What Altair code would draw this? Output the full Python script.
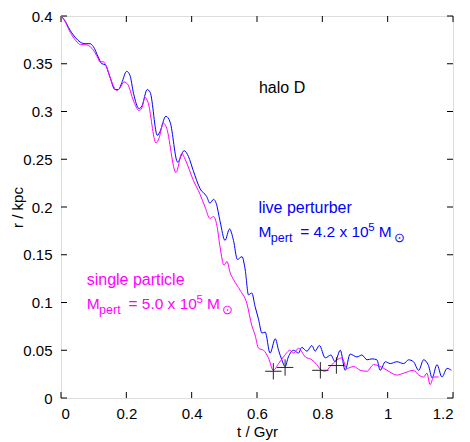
import altair as alt
import pandas as pd

# ---- data ----
blue_t = [0.000, 0.010, 0.028, 0.048, 0.062, 0.074, 0.089, 0.099, 0.114, 0.125, 0.135, 0.150,
          0.165, 0.176, 0.186, 0.201, 0.211, 0.222, 0.239, 0.248, 0.264, 0.273, 0.295, 0.303,
          0.321, 0.334, 0.357, 0.377, 0.390, 0.405, 0.426, 0.446, 0.456, 0.467, 0.475, 0.487,
          0.502, 0.516, 0.528, 0.540, 0.554, 0.564, 0.574, 0.584, 0.594, 0.605, 0.615, 0.625,
          0.640, 0.656, 0.666, 0.676, 0.686, 0.696, 0.712, 0.727, 0.737, 0.753, 0.768, 0.778,
          0.791, 0.809, 0.826, 0.839, 0.855, 0.870, 0.885, 0.906, 0.921, 0.937, 0.952, 0.967,
          0.977, 0.993, 1.008, 1.028, 1.049, 1.064, 1.079, 1.095, 1.110, 1.125, 1.136, 1.151,
          1.166, 1.182, 1.195]
blue_r = [0.400, 0.396, 0.385, 0.376, 0.372, 0.371, 0.371, 0.368, 0.357, 0.350, 0.349, 0.336,
          0.323, 0.323, 0.330, 0.342, 0.338, 0.319, 0.303, 0.306, 0.323, 0.320, 0.275, 0.279,
          0.295, 0.289, 0.247, 0.259, 0.253, 0.238, 0.219, 0.211, 0.204, 0.208, 0.204, 0.185,
          0.165, 0.177, 0.165, 0.145, 0.148, 0.134, 0.108, 0.110, 0.096, 0.082, 0.068, 0.069,
          0.047, 0.062, 0.050, 0.040, 0.033, 0.043, 0.050, 0.047, 0.053, 0.049, 0.055, 0.049,
          0.055, 0.042, 0.045, 0.038, 0.050, 0.029, 0.046, 0.043, 0.045, 0.040, 0.041, 0.040,
          0.029, 0.038, 0.036, 0.038, 0.036, 0.040, 0.038, 0.029, 0.040, 0.034, 0.021, 0.035,
          0.022, 0.031, 0.029]

mag_t = [0.000, 0.010, 0.028, 0.046, 0.060, 0.074, 0.095, 0.113, 0.119, 0.130, 0.138, 0.153,
         0.171, 0.181, 0.193, 0.205, 0.221, 0.239, 0.248, 0.257, 0.266, 0.291, 0.300, 0.313,
         0.322, 0.352, 0.370, 0.380, 0.405, 0.426, 0.441, 0.456, 0.467, 0.477, 0.487, 0.499,
         0.508, 0.518, 0.528, 0.548, 0.569, 0.584, 0.594, 0.605, 0.620, 0.635, 0.650, 0.666,
         0.681, 0.702, 0.712, 0.727, 0.748, 0.768, 0.783, 0.794, 0.809, 0.824, 0.845, 0.860,
         0.875, 0.896, 0.916, 0.937, 0.957, 0.977, 0.998, 1.028, 1.049, 1.079, 1.095, 1.110,
         1.120, 1.130, 1.141, 1.156]
mag_r = [0.400, 0.396, 0.383, 0.374, 0.370, 0.370, 0.366, 0.356, 0.352, 0.352, 0.348, 0.333,
         0.322, 0.325, 0.331, 0.328, 0.312, 0.301, 0.304, 0.315, 0.310, 0.267, 0.272, 0.288,
         0.284, 0.236, 0.256, 0.250, 0.228, 0.213, 0.200, 0.188, 0.190, 0.181, 0.158, 0.139,
         0.143, 0.131, 0.124, 0.113, 0.099, 0.076, 0.066, 0.052, 0.050, 0.042, 0.029, 0.036,
         0.043, 0.050, 0.047, 0.052, 0.043, 0.040, 0.035, 0.030, 0.028, 0.033, 0.040, 0.042,
         0.031, 0.033, 0.029, 0.028, 0.035, 0.033, 0.029, 0.024, 0.026, 0.029, 0.024, 0.022,
         0.026, 0.014, 0.022, 0.022]

cross_t = [0.650, 0.686, 0.794, 0.843]
cross_r = [0.028, 0.032, 0.029, 0.034]

x_ticks = [0, 0.2, 0.4, 0.6, 0.8, 1.0, 1.2]
y_ticks = [0, 0.05, 0.1, 0.15, 0.2, 0.25, 0.3, 0.35, 0.4]

halo_label = "halo D"
halo_pos = (0.606, 0.319)
live_anchor = (0.6045, 0.1689)
single_anchor = (0.0787, 0.0932)
live_lines = ["live perturber", "4.2"]
single_lines = ["single particle", "5.0"]

BLUE = "#0000ff"
MAG = "#ff00ff"
FONT = "Liberation Sans"
W, H = 392, 382
TL = 6

xs = alt.Scale(domain=[0, 1.2], nice=False, zero=False)
ys = alt.Scale(domain=[0, 0.4], nice=False, zero=False)

xaxis = alt.Axis(values=x_ticks, format="~g", title="t / Gyr", ticks=False, tickSize=0,
                 domain=False, grid=False, labelFontSize=15, labelPadding=8, labelFont=FONT,
                 titleFont=FONT, titleFontSize=15, titleFontWeight="normal", titlePadding=3,
                 labelColor="black", titleColor="black")
yaxis = alt.Axis(values=y_ticks, format="~g", title="r / kpc", ticks=False, tickSize=0,
                 domain=False, grid=False, labelFontSize=15, labelPadding=9, labelFont=FONT,
                 titleFont=FONT, titleFontSize=15, titleFontWeight="normal", titlePadding=-3,
                 labelColor="black", titleColor="black")

blue_df = pd.DataFrame({"t": blue_t, "r": blue_r})
mag_df = pd.DataFrame({"t": mag_t, "r": mag_r})
cross_df = pd.DataFrame({"t": cross_t, "r": cross_r})
xt_df = pd.DataFrame({"v": x_ticks})
yt_df = pd.DataFrame({"v": y_ticks})

blue_line = alt.Chart(blue_df).mark_line(color=BLUE, strokeWidth=1, interpolate="monotone").encode(
    x=alt.X("t:Q", scale=xs, axis=xaxis), y=alt.Y("r:Q", scale=ys, axis=yaxis), order="t:Q")
mag_line = alt.Chart(mag_df).mark_line(color=MAG, strokeWidth=1, interpolate="monotone").encode(
    x=alt.X("t:Q", scale=xs), y=alt.Y("r:Q", scale=ys), order="t:Q")

crosses = alt.Chart(cross_df).mark_point(
    shape="M-1,0L1,0M0,-1L0,1", size=270, stroke="black", strokeWidth=1, filled=False,
    opacity=0.85).encode(x=alt.X("t:Q", scale=xs), y=alt.Y("r:Q", scale=ys))

tick_style = dict(color="black", strokeWidth=1)
ticks_bottom = alt.Chart(xt_df).mark_rule(**tick_style).encode(
    x=alt.X("v:Q", scale=xs), y=alt.value(H), y2=alt.value(H - TL))
ticks_top = alt.Chart(xt_df).mark_rule(**tick_style).encode(
    x=alt.X("v:Q", scale=xs), y=alt.value(0), y2=alt.value(TL))
ticks_left = alt.Chart(yt_df).mark_rule(**tick_style).encode(
    y=alt.Y("v:Q", scale=ys), x=alt.value(0), x2=alt.value(TL))
ticks_right = alt.Chart(yt_df).mark_rule(**tick_style).encode(
    y=alt.Y("v:Q", scale=ys), x=alt.value(W - TL), x2=alt.value(W))


def piece(anchor, text, color, size, dx, dy):
    df = pd.DataFrame({"t": [anchor[0]], "r": [anchor[1]], "txt": [text]})
    return alt.Chart(df).mark_text(
        align="left", baseline="alphabetic", font=FONT, fontSize=size, color=color,
        dx=dx, dy=dy).encode(x=alt.X("t:Q", scale=xs), y=alt.Y("r:Q", scale=ys), text="txt:N")


def annotation(anchor, lines, color):
    return [
        piece(anchor, lines[0], color, 16, 0, -23.5),
        piece(anchor, "M", color, 15.5, 0, 0),
        piece(anchor, "pert", color, 12.5, 12.4, 5),
        piece(anchor, "= " + lines[1] + " x 10", color, 15.5, 41.7, 0),
        piece(anchor, "5", color, 11.5, 109.8, -5.5),
        piece(anchor, "M", color, 15.5, 120.2, 0),
        piece(anchor, "\u2299", color, 12.5, 135.5, 5),
    ]


halo = piece(halo_pos, halo_label, "black", 16, 0, 0)

layers = [ticks_bottom, ticks_top, ticks_left, ticks_right, blue_line, mag_line, crosses, halo]
layers += annotation(live_anchor, live_lines, BLUE)
layers += annotation(single_anchor, single_lines, MAG)

chart = alt.layer(*layers).properties(
    width=W, height=H, autosize="none",
    padding={"left": 53, "top": 8, "right": 9, "bottom": 44},
).configure_view(stroke="black", strokeWidth=1).configure(background="white")

chart.save("out.html", embed_options={"renderer": "svg", "actions": False})
